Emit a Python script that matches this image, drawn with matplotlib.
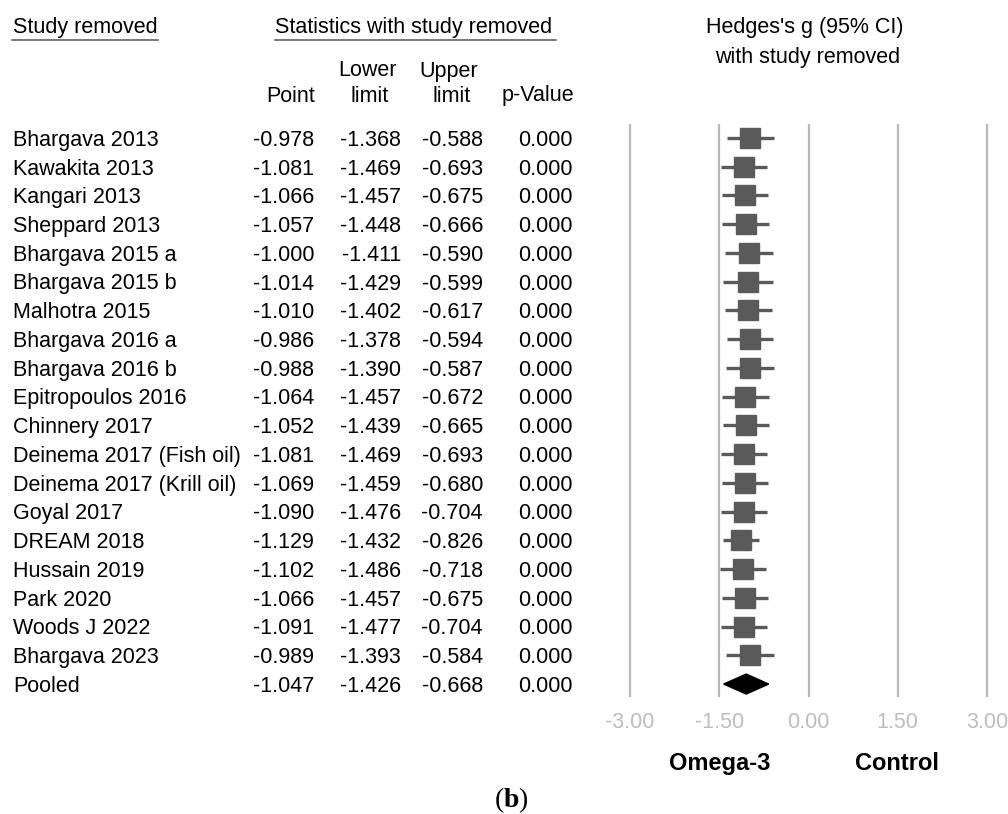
import matplotlib
matplotlib.use("Agg")
import matplotlib.pyplot as plt
import numpy as np

plt.rcParams['font.family'] = ['Liberation Sans', 'DejaVu Sans']
plt.rcParams['mathtext.fontset'] = 'custom'
plt.rcParams['mathtext.rm'] = 'Liberation Serif'
plt.rcParams['mathtext.bf'] = 'Liberation Serif:bold'

# leave-one-out sensitivity analysis
studies = ["Bhargava 2013", "Kawakita 2013", "Kangari 2013", "Sheppard 2013",
           "Bhargava 2015 a", "Bhargava 2015 b", "Malhotra 2015", "Bhargava 2016 a",
           "Bhargava 2016 b", "Epitropoulos 2016", "Chinnery 2017",
           "Deinema 2017 (Fish oil)", "Deinema 2017 (Krill oil)", "Goyal 2017",
           "DREAM 2018", "Hussain 2019", "Park 2020", "Woods J 2022", "Bhargava 2023"]
point = [-0.978, -1.081, -1.066, -1.057, -1.000, -1.014, -1.010, -0.986, -0.988,
         -1.064, -1.052, -1.081, -1.069, -1.090, -1.129, -1.102, -1.066, -1.091, -0.989]
lower = [-1.368, -1.469, -1.457, -1.448, -1.411, -1.429, -1.402, -1.378, -1.390,
         -1.457, -1.439, -1.469, -1.459, -1.476, -1.432, -1.486, -1.457, -1.477, -1.393]
upper = [-0.588, -0.693, -0.675, -0.666, -0.590, -0.599, -0.617, -0.594, -0.587,
         -0.672, -0.665, -0.693, -0.680, -0.704, -0.826, -0.718, -0.675, -0.704, -0.584]
pval = [0.000] * 19

pooled = {"name": "Pooled", "point": -1.047, "lower": -1.426, "upper": -0.668, "p": 0.000}

xticks = [-3.0, -1.5, 0.0, 1.5, 3.0]

W, H = 1008, 814
fig = plt.figure(figsize=(W / 100, H / 100), dpi=100)

# text layer in pixel coordinates
tx = fig.add_axes([0, 0, 1, 1])
tx.set_xlim(0, W)
tx.set_ylim(H, 0)
tx.axis('off')

fs = 15.5
row0, dy = 138, 28.74
kw = dict(fontsize=fs, va='baseline')

tx.text(13, 33, "Study removed", ha='left', **kw)
tx.plot([12, 158], [39.5, 39.5], color='#555555', lw=1.1)
tx.text(275, 33, "Statistics with study removed", ha='left', **kw)
tx.plot([275, 556], [39.5, 39.5], color='#555555', lw=1.1)

tx.text(315, 101.5, "Point", ha='right', **kw)
tx.text(368, 76.5, "Lower", ha='center', **kw)
tx.text(370, 101.5, "limit", ha='center', **kw)
tx.text(449, 76.5, "Upper", ha='center', **kw)
tx.text(452, 101.5, "limit", ha='center', **kw)
tx.text(574, 101.5, "p-Value", ha='right', **kw)

tx.text(805, 33, "Hedges's g (95% CI)", ha='center', **kw)
tx.text(808, 63, "with study removed", ha='center', **kw)

names = studies + [pooled["name"]]
pts = point + [pooled["point"]]
los = lower + [pooled["lower"]]
ups = upper + [pooled["upper"]]
ps = pval + [pooled["p"]]
for i in range(len(names)):
    y = row0 + i * dy + 7.8
    tx.text(13, y, names[i], ha='left', **kw)
    tx.text(314, y, f"{pts[i]:.3f}", ha='right', **kw)
    tx.text(401, y, f"{los[i]:.3f}", ha='right', **kw)
    tx.text(483, y, f"{ups[i]:.3f}", ha='right', **kw)
    tx.text(573, y, f"{ps[i]:.3f}", ha='right', **kw)

tx.text(720, 770, "Omega-3", fontsize=17, fontweight='bold', va='baseline', ha='center')
tx.text(897, 770, "Control", fontsize=17, fontweight='bold', va='baseline', ha='center')
tx.text(511, 807, r"$\mathrm{(}\mathbf{b}\mathrm{)}$", fontsize=20, va='baseline', ha='center')

# forest plot axes
x0, x3 = 630, 987
scale = (x3 - x0) / 6.0
left_px, right_px = 612, 1005
top_px, bot_px = 124, 697
ax = fig.add_axes([left_px / W, 1 - bot_px / H, (right_px - left_px) / W, (bot_px - top_px) / H])
ax.set_xlim(-3 - (x0 - left_px) / scale, 3 + (right_px - x3) / scale)
ax.set_ylim(19 + (bot_px - (row0 + 19 * dy)) / dy, -(row0 - top_px) / dy)
ax.patch.set_alpha(0)
for s in ax.spines.values():
    s.set_visible(False)
ax.set_yticks([])
ax.set_xticks(xticks)
ax.set_xticklabels([f"{t:.2f}" for t in xticks], fontsize=fs, color='#bdbdbd')
ax.tick_params(axis='x', length=0, pad=10.5)
ax.xaxis.grid(True, color='#b8b8b8', lw=1.6)
ax.set_axisbelow(True)

rows = np.arange(len(studies))
ax.hlines(rows, lower, upper, color='#5a5a5a', lw=2.4, zorder=3)
ax.plot(point, rows, 's', ms=14.8, color='#5a5a5a', mec='#5a5a5a', zorder=4)

yp = len(studies)
h = 10 / dy
ax.fill([pooled["lower"], pooled["point"], pooled["upper"], pooled["point"]],
        [yp, yp - h, yp, yp + h], color='black', zorder=4)

fig.savefig("out.png", dpi=100)
